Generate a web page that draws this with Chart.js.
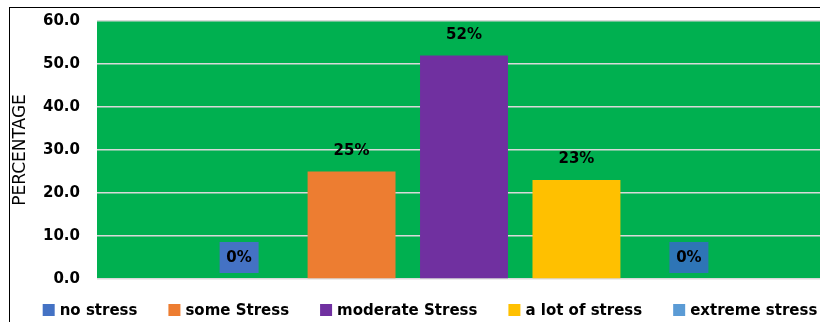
<!DOCTYPE html>
<html>
<head>
<meta charset="utf-8">
<script src="https://cdn.jsdelivr.net/npm/chart.js@4.4.1/dist/chart.umd.min.js"></script>
<style>
    html, body { margin: 0; padding: 0; background: #fff; overflow: hidden; }
    #wrap { position: relative; width: 820px; height: 322px; overflow: hidden; }
    #box { position: absolute; left: 0; top: 0; width: 831px; height: 322px; }
    #frame { position: absolute; left: 9px; top: 7px; width: 900px; height: 400px;
             border-top: 1px solid #000; border-left: 1px solid #000; pointer-events: none; }
</style>
</head>
<body>
<div id="wrap">
    <div id="box"><canvas id="stressChart" width="831" height="322"></canvas></div>
    <div id="frame"></div>
</div>
<script>
// data
const seriesNames = ['no stress', 'some Stress', 'moderate Stress', 'a lot of stress', 'extreme stress'];
const seriesValues = [0, 25, 52, 23, 0];
const seriesColors = ['#4472C4', '#ED7D31', '#7030A0', '#FFC000', '#5B9BD5'];
const labelBoxColors = ['#4472C4', null, null, null, '#2E75B6'];
const yTicks = [0, 10, 20, 30, 40, 50, 60];

const boldFont = 'bold 15px "DejaVu Sans"';

// green plot background
const plotBg = {
    id: 'plotBg',
    beforeDraw(chart) {
        const a = chart.chartArea, c = chart.ctx;
        c.save();
        c.fillStyle = '#00B050';
        c.fillRect(a.left, a.top, a.right - a.left, a.bottom - a.top);
        c.restore();
    }
};

// value labels above the bars, boxed ones for zero
const valueLabels = {
    id: 'valueLabels',
    afterDatasetsDraw(chart) {
        const c = chart.ctx;
        c.save();
        c.font = boldFont;
        c.textAlign = 'center';
        c.textBaseline = 'middle';
        chart.data.datasets.forEach(function (ds, i) {
            const bar = chart.getDatasetMeta(i).data[0];
            const y = bar.y - 21.5;
            if (labelBoxColors[i]) {
                c.fillStyle = labelBoxColors[i];
                c.fillRect(bar.x - 19.5, y - 15.5, 39, 31);
            }
            c.fillStyle = '#000';
            c.fillText(ds.data[0] + '%', bar.x, y + 1);
        });
        c.restore();
    }
};

// legend row at the bottom
const bottomLegend = {
    id: 'bottomLegend',
    afterDraw(chart) {
        const c = chart.ctx;
        const centerX = 430, y = 310, box = 12, gap = 5, spacing = 31;
        c.save();
        c.font = boldFont;
        c.textBaseline = 'middle';
        const widths = chart.data.datasets.map(ds => c.measureText(ds.label).width);
        let total = 0;
        widths.forEach(w => { total += box + gap + w; });
        total += spacing * (widths.length - 1);
        let x = centerX - total / 2;
        chart.data.datasets.forEach(function (ds, i) {
            c.fillStyle = ds.backgroundColor;
            c.fillRect(x, y - box / 2, box, box);
            c.fillStyle = '#000';
            c.fillText(ds.label, x + box + gap, y + 1);
            x += box + gap + widths[i] + spacing;
        });
        c.restore();
    }
};

const datasets = seriesNames.map(function (name, i) {
    return {
        label: name,
        data: [seriesValues[i]],
        backgroundColor: seriesColors[i],
        categoryPercentage: 0.766,
        barPercentage: 0.782
    };
});

const ctx = document.getElementById('stressChart');
const myChart = new Chart(ctx, {
    type: 'bar',
    data: { labels: [''], datasets: datasets },
    options: {
        responsive: false,
        animation: false,
        layout: { padding: { left: 10, top: 21, right: 0, bottom: 43 } },
        plugins: {
            legend: { display: false },
            tooltip: { enabled: false }
        },
        scales: {
            x: { display: false },
            y: {
                min: 0,
                max: 60,
                afterBuildTicks(scale) {
                    scale.ticks = yTicks.map(v => ({ value: v }));
                },
                afterFit(scale) {
                    scale.width = 87;
                    scale.paddingTop = 0;
                    scale.paddingBottom = 0;
                },
                grid: { color: '#D9D9D9', lineWidth: 1.5, drawTicks: false },
                border: { display: false },
                ticks: {
                    padding: 17,
                    color: '#000',
                    font: { family: 'DejaVu Sans', size: 15, weight: 'bold' },
                    callback: v => v.toFixed(1)
                },
                title: {
                    display: true,
                    text: 'PERCENTAGE',
                    color: '#000',
                    padding: 0,
                    font: { family: 'DejaVu Sans', size: 17, lineHeight: 1.2 }
                }
            }
        }
    },
    plugins: [plotBg, valueLabels, bottomLegend]
});
</script>
</body>
</html>
